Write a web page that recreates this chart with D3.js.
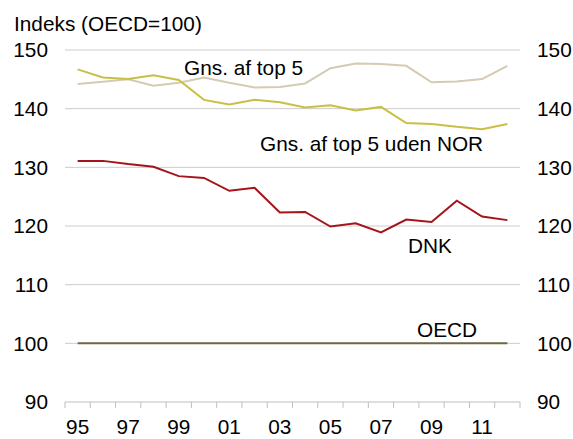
<!DOCTYPE html>
<html>
<head>
<meta charset="utf-8">
<script src="https://cdn.jsdelivr.net/npm/d3@7"></script>
<style>
  body { margin: 0; background: #fff; }
  svg text { font-family: "Liberation Sans", Arial, sans-serif; fill: #000; }
</style>
</head>
<body>
<div id="chart"></div>
<script>
const years = [1995, 1996, 1997, 1998, 1999, 2000, 2001, 2002, 2003, 2004, 2005, 2006, 2007, 2008, 2009, 2010, 2011, 2012];
const yearLabels = ['95', '97', '99', '01', '03', '05', '07', '09', '11'];
const yTicks = [90, 100, 110, 120, 130, 140, 150];

const top5 = [144.2, 144.6, 145.0, 143.9, 144.4, 145.3, 144.4, 143.6, 143.7, 144.3, 146.9, 147.7, 147.6, 147.3, 144.5, 144.65, 145.05, 147.3];
const top5UdenNor = [146.7, 145.3, 145.05, 145.7, 144.9, 141.5, 140.7, 141.5, 141.1, 140.2, 140.6, 139.7, 140.3, 137.55, 137.4, 136.9, 136.5, 137.4];
const dnk = [131.1, 131.1, 130.55, 130.1, 128.5, 128.2, 126.0, 126.5, 122.3, 122.4, 119.9, 120.45, 118.9, 121.1, 120.7, 124.3, 121.6, 121.0];
const oecd = [100, 100, 100, 100, 100, 100, 100, 100, 100, 100, 100, 100, 100, 100, 100, 100, 100, 100];

const width = 573, height = 439;
const left = 65, right = 520, topY = 50, bottomY = 402;
const fontSize = '20.8px';

let svg = d3.select('#chart')
  .append('svg')
  .attr('width', width)
  .attr('height', height);

let x = d3.scaleBand()
  .domain(years)
  .range([left, right]);

let y = d3.scaleLinear()
  .domain([90, 150])
  .range([bottomY, topY]);

// gridlines
svg.append('g')
  .selectAll('line')
  .data(yTicks.filter(d => d !== 90))
  .enter()
  .append('line')
    .attr('x1', left)
    .attr('x2', right)
    .attr('y1', d => y(d))
    .attr('y2', d => y(d))
    .attr('stroke', '#cccccc')
    .attr('stroke-width', 1);

// left / right tick labels
svg.append('g')
  .selectAll('text')
  .data(yTicks)
  .enter()
  .append('text')
    .attr('x', 48)
    .attr('y', d => y(d))
    .attr('dy', '0.35em')
    .style('text-anchor', 'end')
    .style('font-size', fontSize)
    .text(d => d);

svg.append('g')
  .selectAll('text')
  .data(yTicks)
  .enter()
  .append('text')
    .attr('x', 537)
    .attr('y', d => y(d))
    .attr('dy', '0.35em')
    .style('text-anchor', 'start')
    .style('font-size', fontSize)
    .text(d => d);

// bottom axis with ticks at band edges
let xAxis = svg.append('g')
  .attr('transform', `translate(0, ${y(90)})`);

xAxis.append('line')
  .attr('x1', left)
  .attr('x2', right)
  .attr('stroke', '#bfbfbf');

xAxis.selectAll('.tick')
  .data(years.concat(['end']))
  .enter()
  .append('line')
    .attr('x1', d => d === 'end' ? right : x(d))
    .attr('x2', d => d === 'end' ? right : x(d))
    .attr('y1', 0)
    .attr('y2', 6)
    .attr('stroke', '#bfbfbf');

// year labels under every other band
xAxis.selectAll('text')
  .data(yearLabels)
  .enter()
  .append('text')
    .attr('x', d => x(+(d < '50' ? '20' + d : '19' + d)) + x.bandwidth() / 2)
    .attr('y', 32)
    .style('text-anchor', 'middle')
    .style('font-size', fontSize)
    .text(d => d);

// lines
let line = d3.line()
  .x((d, i) => x(years[i]) + x.bandwidth() / 2)
  .y(d => y(d));

const series = [
  { values: oecd, color: '#6e6843' },
  { values: top5, color: '#d4cbb3' },
  { values: top5UdenNor, color: '#c8c044' },
  { values: dnk, color: '#a5141b' }
];

svg.append('g')
  .selectAll('path')
  .data(series)
  .enter()
  .append('path')
    .attr('d', d => line(d.values))
    .attr('fill', 'none')
    .attr('stroke', d => d.color)
    .attr('stroke-width', 2);

// labels
svg.append('text')
  .attr('x', 14)
  .attr('y', 31)
  .style('font-size', fontSize)
  .text('Indeks (OECD=100)');

const labels = [
  { text: 'Gns. af top 5', x: 184, y: 75 },
  { text: 'Gns. af top 5 uden NOR', x: 260, y: 151 },
  { text: 'DNK', x: 408, y: 253 },
  { text: 'OECD', x: 417, y: 337 }
];

svg.append('g')
  .selectAll('text')
  .data(labels)
  .enter()
  .append('text')
    .attr('x', d => d.x)
    .attr('y', d => d.y)
    .style('font-size', fontSize)
    .text(d => d.text);
</script>
</body>
</html>
